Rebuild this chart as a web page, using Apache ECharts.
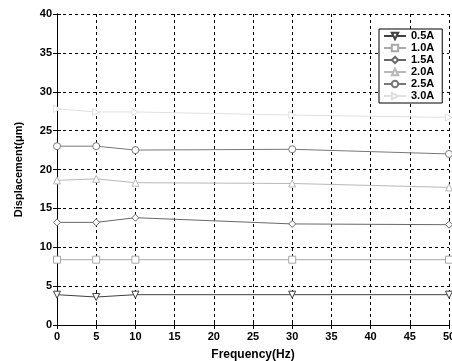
<!DOCTYPE html>
<html><head><meta charset="utf-8">
<script src="https://cdn.jsdelivr.net/npm/echarts@6/dist/echarts.min.js"></script>
<style>html,body{margin:0;padding:0;background:#fff}#c{width:452px;height:361px}</style>
</head><body><div id="c"></div>
<script>
const freqs = [0, 5, 10, 30, 50];
const names = ['0.5A', '1.0A', '1.5A', '2.0A', '2.5A', '3.0A'];
const s05 = [3.9, 3.6, 3.9, 3.9, 3.9];
const s10 = [8.4, 8.4, 8.4, 8.4, 8.4];
const s15 = [13.2, 13.2, 13.8, 13.0, 12.9];
const s20 = [18.6, 18.8, 18.3, 18.2, 17.7];
const s25 = [23.0, 23.0, 22.5, 22.6, 22.0];
const s30 = [27.8, 27.4, 27.4, 27.0, 26.7];
const seriesVals = [s05, s10, s15, s20, s25, s30];
const colors = ['#404040', '#a8a8a8', '#686868', '#b8b8b8', '#787878', '#e0e0e0'];
const symbols = ['triangle', 'rect', 'diamond', 'triangle', 'circle', 'triangle'];
const rotates = [180, 0, 0, 0, 0, -90];
const sizes = [7, 7, 7, 7, 7, 7];

const font = 'Liberation Sans, Arial, sans-serif';
const chart = echarts.init(document.getElementById('c'));
const series = names.map((n, i) => ({
  name: n, type: 'line',
  data: freqs.map((f, j) => [f, seriesVals[i][j]]),
  symbol: symbols[i], symbolRotate: rotates[i], symbolSize: sizes[i],
  showAllSymbol: true,
  lineStyle: {color: colors[i], width: 1},
  itemStyle: {color: '#fff', borderColor: colors[i], borderWidth: 1},
  emphasis: {disabled: true},
  animation: false,
  z: 3
}));
chart.setOption({
  animation: false,
  grid: {left: 57, right: 3, top: 14, bottom: 36, show: false, outerBoundsMode: 'none', containLabel: false},
  legend: {
    orient: 'vertical', left: 379, top: 29,
    backgroundColor: '#fff', borderColor: '#000', borderWidth: 1,
    padding: [1, 8, 1, 4],
    itemWidth: 22, itemHeight: 8, itemGap: 0,
    textStyle: {fontFamily: font, fontWeight: 'bold', fontSize: 11, lineHeight: 12, color: '#000'},
    data: names
  },
  xAxis: [{
    type: 'value', min: 0, max: 50, interval: 5, position: 'bottom',
    name: 'Frequency(Hz)', nameLocation: 'middle', nameGap: 24,
    nameTextStyle: {fontFamily: font, fontWeight: 'bold', fontSize: 12, color: '#000'},
    axisLine: {show: true, lineStyle: {color: '#000', width: 1}},
    axisTick: {show: true, inside: true, length: 4, lineStyle: {color: '#000'}},
    axisLabel: {fontFamily: font, fontWeight: 'bold', fontSize: 11, color: '#000', margin: 6},
    splitLine: {show: true, lineStyle: {color: '#000', type: [3, 3], width: 1}}
  }, {
    type: 'value', min: 0, max: 50, interval: 5, position: 'top',
    axisLine: {show: true, lineStyle: {color: '#000', width: 1}},
    axisTick: {show: true, inside: true, length: 4, lineStyle: {color: '#000'}},
    axisLabel: {show: false}, splitLine: {show: false}
  }],
  yAxis: [{
    type: 'value', min: 0, max: 40, interval: 5, position: 'left',
    name: 'Displacement(\u03bcm)', nameLocation: 'middle', nameGap: 33, nameRotate: 90,
    nameTextStyle: {fontFamily: font, fontWeight: 'bold', fontSize: 11, color: '#000'},
    axisLine: {show: true, lineStyle: {color: '#000', width: 1}},
    axisTick: {show: true, inside: true, length: 4, lineStyle: {color: '#000'}},
    axisLabel: {fontFamily: font, fontWeight: 'bold', fontSize: 11, color: '#000', margin: 5},
    splitLine: {show: true, lineStyle: {color: '#000', type: [3, 3], width: 1}}
  }, {
    type: 'value', min: 0, max: 40, interval: 5, position: 'right',
    axisLine: {show: true, lineStyle: {color: '#000', width: 1}},
    axisTick: {show: true, inside: true, length: 4, lineStyle: {color: '#000'}},
    axisLabel: {show: false}, splitLine: {show: false}
  }],
  series: series
});
</script></body></html>
